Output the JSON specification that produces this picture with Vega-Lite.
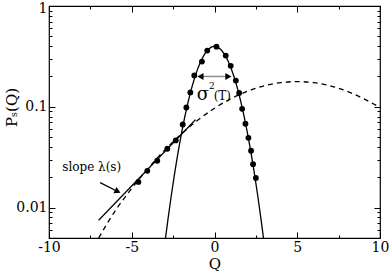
{
  "$schema": "https://vega.github.io/schema/vega-lite/v6.json",
  "width": 331,
  "height": 232,
  "autosize": {"type": "none"},
  "padding": {"left": 49, "top": 6, "right": 10, "bottom": 33},
  "config": {
    "view": {"stroke": "black", "strokeWidth": 1.2},
    "font": "DejaVu Serif",
    "axis": {
      "domain": false, "grid": false, "tickColor": "black", "tickWidth": 1,
      "labelFont": "DejaVu Serif",
      "titleFont": "DejaVu Serif",
      "labelColor": "black", "titleColor": "black",
      "labelFontSize": 14, "titleFontSize": 15, "titleFontWeight": "normal",
      "labelFlush": false, "labelOverlap": false
    },
    "text": {"font": "DejaVu Serif"}
  },
  "datasets": {
    "gauss": [
      {"q": -3.0, "p": 0.00443}, {"q": -2.8, "p": 0.00792}, {"q": -2.6, "p": 0.01358},
      {"q": -2.4, "p": 0.02239}, {"q": -2.2, "p": 0.03547}, {"q": -2.0, "p": 0.05399},
      {"q": -1.8, "p": 0.07895}, {"q": -1.6, "p": 0.1109}, {"q": -1.4, "p": 0.1497},
      {"q": -1.2, "p": 0.1942}, {"q": -1.0, "p": 0.2420}, {"q": -0.8, "p": 0.2897},
      {"q": -0.6, "p": 0.3332}, {"q": -0.4, "p": 0.3683}, {"q": -0.2, "p": 0.3910},
      {"q": 0.0, "p": 0.3989}, {"q": 0.2, "p": 0.3910}, {"q": 0.4, "p": 0.3683},
      {"q": 0.6, "p": 0.3332}, {"q": 0.8, "p": 0.2897}, {"q": 1.0, "p": 0.2420},
      {"q": 1.2, "p": 0.1942}, {"q": 1.4, "p": 0.1497}, {"q": 1.6, "p": 0.1109},
      {"q": 1.8, "p": 0.07895}, {"q": 2.0, "p": 0.05399}, {"q": 2.2, "p": 0.03547},
      {"q": 2.4, "p": 0.02239}, {"q": 2.6, "p": 0.01358}, {"q": 2.8, "p": 0.00792},
      {"q": 3.0, "p": 0.00443}
    ],
    "dashed": [
      {"q": -7, "p": 0.0050}, {"q": -6, "p": 0.00931},
      {"q": -5, "p": 0.01553}, {"q": -4, "p": 0.02468}, {"q": -3, "p": 0.03737},
      {"q": -2, "p": 0.05388}, {"q": -1, "p": 0.07398}, {"q": 0, "p": 0.09674},
      {"q": 1, "p": 0.1205}, {"q": 2, "p": 0.1429}, {"q": 3, "p": 0.1614},
      {"q": 4, "p": 0.1737}, {"q": 5, "p": 0.178}, {"q": 6, "p": 0.1737},
      {"q": 7, "p": 0.1614}, {"q": 8, "p": 0.1429}, {"q": 9, "p": 0.1205},
      {"q": 10, "p": 0.0985}
    ],
    "tail": [
      {"q": -7.0, "p": 0.0075}, {"q": -1.15, "p": 0.0745}
    ],
    "dots": [
      {"q": -4.60, "p": 0.0180}, {"q": -4.06, "p": 0.0232}, {"q": -3.46, "p": 0.0292},
      {"q": -2.85, "p": 0.0384}, {"q": -2.34, "p": 0.0464}, {"q": -1.92, "p": 0.0668},
      {"q": -1.70, "p": 0.0984}, {"q": -1.46, "p": 0.139}, {"q": -1.22, "p": 0.205},
      {"q": -0.76, "p": 0.281}, {"q": -0.44, "p": 0.361}, {"q": 0.12, "p": 0.395},
      {"q": 0.68, "p": 0.322}, {"q": 0.98, "p": 0.255}, {"q": 1.29, "p": 0.182},
      {"q": 1.49, "p": 0.137}, {"q": 1.67, "p": 0.0955}, {"q": 1.87, "p": 0.0679},
      {"q": 2.05, "p": 0.0493}, {"q": 2.21, "p": 0.0367}, {"q": 2.33, "p": 0.0270},
      {"q": 2.50, "p": 0.0197}
    ],
    "sigmaArrow": [
      {"q": -0.85, "p": 0.2}, {"q": 0.84, "p": 0.2}
    ],
    "slopeArrow": [
      {"q": -6.91, "p": 0.0177}, {"q": -5.85, "p": 0.01446}
    ]
  },
  "layer": [
    {
      "data": {"name": "gauss"},
      "mark": {"type": "line", "color": "black", "strokeWidth": 1.3, "clip": true},
      "encoding": {
        "x": {"field": "q", "type": "quantitative",
          "scale": {"domain": [-10, 10], "nice": false, "zero": false},
          "axis": {"orient": "bottom", "values": [-10, -5, 0, 5, 10], "tickSize": -6,
            "labelPadding": 8, "labelExpr": "datum.value + ''",
            "title": "Q", "titleX": 165.5, "titleY": 25, "titleBaseline": "middle", "titleAlign": "center"}},
        "y": {"field": "p", "type": "quantitative",
          "scale": {"type": "log", "domain": [0.005, 1], "nice": false},
          "axis": {"orient": "left", "values": [0.01, 0.1, 1], "tickSize": -6,
            "labelPadding": 8, "labelExpr": "datum.value + ''",
            "labelOffset": {"condition": {"test": "datum.value == 1", "value": 2}, "value": 0},
            "title": "Pₛ(Q)", "titleX": -38, "titleY": 101, "titleAngle": -90,
            "titleBaseline": "middle", "titleAlign": "center"}}
      }
    },
    {
      "data": {"name": "dashed"},
      "mark": {"type": "line", "color": "black", "strokeWidth": 1.3, "strokeDash": [5, 4], "interpolate": "monotone", "clip": true},
      "encoding": {
        "x": {"field": "q", "type": "quantitative",
          "scale": {"domain": [-10, 10], "nice": false, "zero": false},
          "axis": {"orient": "bottom", "values": [-7.5, -2.5, 2.5, 7.5], "tickSize": -3, "labels": false, "title": null}},
        "y": {"field": "p", "type": "quantitative",
          "scale": {"type": "log", "domain": [0.005, 1], "nice": false},
          "axis": {"orient": "left", "values": [0.006, 0.007, 0.008, 0.009, 0.02, 0.03, 0.04, 0.05, 0.06, 0.07, 0.08, 0.09, 0.2, 0.3, 0.4, 0.5, 0.6, 0.7, 0.8, 0.9], "tickSize": -3, "labels": false, "title": null}}
      }
    },
    {
      "data": {"name": "tail"},
      "mark": {"type": "line", "color": "black", "strokeWidth": 1.2, "clip": true},
      "encoding": {
        "x": {"field": "q", "type": "quantitative",
          "scale": {"domain": [-10, 10], "nice": false, "zero": false},
          "axis": {"orient": "top", "values": [-10, -5, 0, 5, 10], "tickSize": -6, "labels": false, "title": null}},
        "y": {"field": "p", "type": "quantitative",
          "scale": {"type": "log", "domain": [0.005, 1], "nice": false},
          "axis": {"orient": "right", "values": [0.01, 0.1, 1], "tickSize": -6, "labels": false, "title": null}}
      }
    },
    {
      "data": {"name": "dots"},
      "mark": {"type": "point", "filled": true, "color": "black", "size": 34, "opacity": 1},
      "encoding": {
        "x": {"field": "q", "type": "quantitative",
          "scale": {"domain": [-10, 10], "nice": false, "zero": false},
          "axis": {"orient": "top", "values": [-7.5, -2.5, 2.5, 7.5], "tickSize": -3, "labels": false, "title": null}},
        "y": {"field": "p", "type": "quantitative",
          "scale": {"type": "log", "domain": [0.005, 1], "nice": false},
          "axis": {"orient": "right", "values": [0.006, 0.007, 0.008, 0.009, 0.02, 0.03, 0.04, 0.05, 0.06, 0.07, 0.08, 0.09, 0.2, 0.3, 0.4, 0.5, 0.6, 0.7, 0.8, 0.9], "tickSize": -3, "labels": false, "title": null}}
      }
    },
    {
      "data": {"name": "sigmaArrow"},
      "mark": {"type": "line", "color": "#8c8c8c", "strokeWidth": 1.5},
      "encoding": {
        "x": {"field": "q", "type": "quantitative", "axis": null},
        "y": {"field": "p", "type": "quantitative", "axis": null}
      }
    },
    {
      "data": {"values": [{}]},
      "mark": {"type": "point", "shape": "triangle-left", "filled": true, "color": "black", "size": 50, "opacity": 1},
      "encoding": {
        "x": {"datum": -0.85, "type": "quantitative", "axis": null},
        "y": {"datum": 0.2, "type": "quantitative", "axis": null}
      }
    },
    {
      "data": {"values": [{}]},
      "mark": {"type": "point", "shape": "triangle-right", "filled": true, "color": "black", "size": 50, "opacity": 1},
      "encoding": {
        "x": {"datum": 0.84, "type": "quantitative", "axis": null},
        "y": {"datum": 0.2, "type": "quantitative", "axis": null}
      }
    },
    {
      "data": {"name": "slopeArrow"},
      "mark": {"type": "line", "color": "black", "strokeWidth": 1.3},
      "encoding": {
        "x": {"field": "q", "type": "quantitative", "axis": null},
        "y": {"field": "p", "type": "quantitative", "axis": null}
      }
    },
    {
      "data": {"values": [{}]},
      "mark": {"type": "point", "shape": "triangle-right", "filled": true, "color": "black", "size": 50, "opacity": 1, "angle": 26},
      "encoding": {
        "x": {"datum": -5.85, "type": "quantitative", "axis": null},
        "y": {"datum": 0.01446, "type": "quantitative", "axis": null}
      }
    },
    {
      "data": {"values": [{}]},
      "mark": {"type": "text", "fontSize": 12, "align": "left", "baseline": "alphabetic", "color": "black"},
      "encoding": {
        "x": {"datum": -9.2, "type": "quantitative", "axis": null},
        "y": {"datum": 0.0232, "type": "quantitative", "axis": null},
        "text": {"value": "slope λ(s)"}
      }
    },
    {
      "data": {"values": [{}]},
      "mark": {"type": "text", "fontSize": 18, "align": "left", "baseline": "alphabetic", "color": "black"},
      "encoding": {
        "x": {"datum": -1.08, "type": "quantitative", "axis": null},
        "y": {"datum": 0.117, "type": "quantitative", "axis": null},
        "text": {"value": "σ"}
      }
    },
    {
      "data": {"values": [{}]},
      "mark": {"type": "text", "fontSize": 9, "align": "left", "baseline": "alphabetic", "color": "black"},
      "encoding": {
        "x": {"datum": -0.33, "type": "quantitative", "axis": null},
        "y": {"datum": 0.15, "type": "quantitative", "axis": null},
        "text": {"value": "2"}
      }
    },
    {
      "data": {"values": [{}]},
      "mark": {"type": "text", "fontSize": 12, "align": "left", "baseline": "alphabetic", "color": "black"},
      "encoding": {
        "x": {"datum": -0.05, "type": "quantitative", "axis": null},
        "y": {"datum": 0.118, "type": "quantitative", "axis": null},
        "text": {"value": "(T)"}
      }
    }
  ],
  "resolve": {"axis": {"x": "independent", "y": "independent"}}
}
